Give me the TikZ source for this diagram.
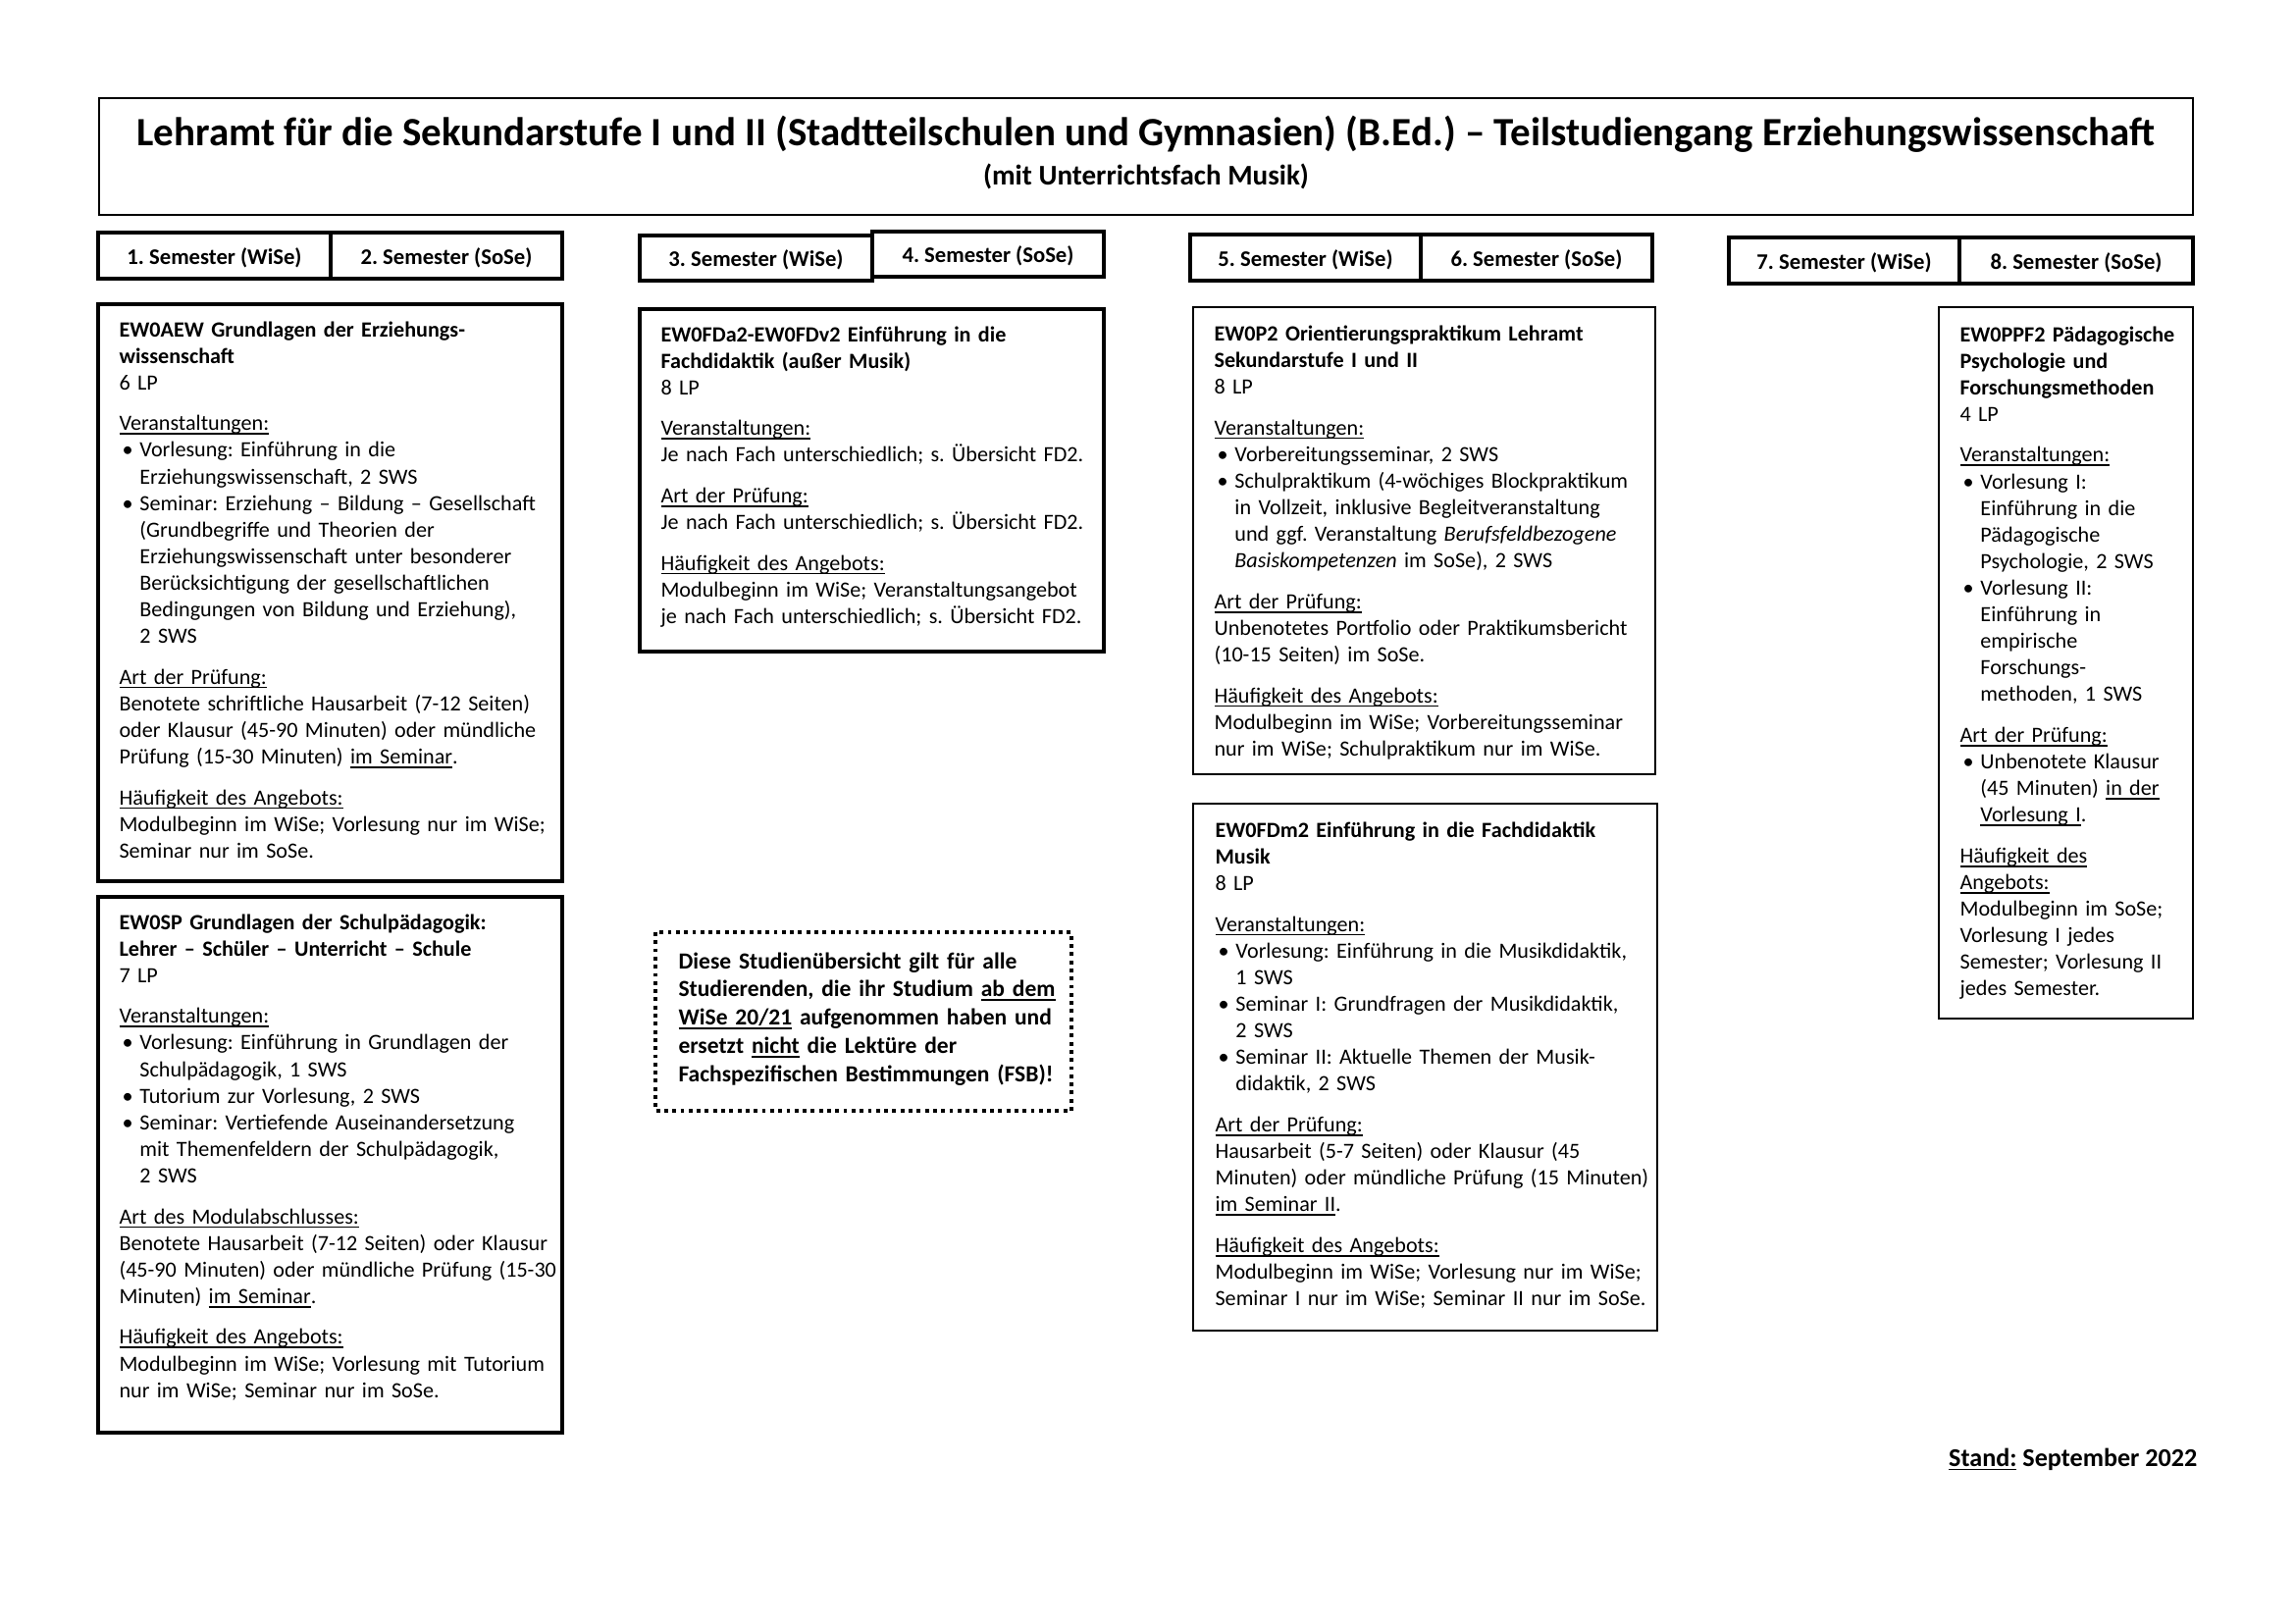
\documentclass[tikz,border=0pt]{standalone}
\usepackage{fontspec}
\setmainfont{Carlito}
\usepackage{tikz}
\frenchspacing
\newsavebox{\ulbox}
\newcommand{\ulin}[1]{\leavevmode\sbox{\ulbox}{#1}\rlap{\rule[-1.5pt]{\wd\ulbox}{0.6pt}}\usebox{\ulbox}}
\newcommand{\bul}{\hspace*{0.4mm}\makebox[2.25mm][l]{\textbullet}}
\newcommand{\ind}{\hspace*{2.65mm}}

\begin{document}
\begin{tikzpicture}[x=0.127mm, y=-0.127mm,
  modtext/.style={anchor=base west, inner sep=0pt, align=left, text width=62mm, font=\fontsize{8}{9.8}\selectfont},
  semlabel/.style={font=\fontsize{8.2}{10}\selectfont\bfseries},
  semline/.style={line width=1.4pt},
  thickbox/.style={line width=1.3pt},
  thinbox/.style={line width=0.5pt},
  notedots/.style={line width=1.4pt, dash pattern=on 1.4pt off 1.6pt}]
  \useasboundingbox (0,0) rectangle (2339,1654);
  % Title
  \draw[thinbox] (101,100) rectangle (2235,219);
  \node[font=\fontsize{14.8}{17}\selectfont\bfseries] (title) at (1168,137)
    {Lehramt für die Sekundarstufe I und II (Stadtteilschulen und Gymnasien) (B.Ed.) – Teilstudiengang Erziehungswissenschaft};
  \node[font=\fontsize{10.5}{12}\selectfont\bfseries] (subtitle) at (1168,180) {(mit Unterrichtsfach Musik)};
  % Semester cells
  \draw[semline] (100,237) rectangle (337,284);
  \draw[semline] (337,237) rectangle (573,284);
  \node[semlabel] (sem1) at (218.5,262.5) {1. Semester (WiSe)};
  \node[semlabel] (sem2) at (455,262.5) {2. Semester (SoSe)};
  \draw[semline] (652,240) rectangle (889,286);
  \draw[semline] (889,236) rectangle (1125,282);
  \node[semlabel] (sem3) at (770.5,265) {3. Semester (WiSe)};
  \node[semlabel] (sem4) at (1007,261) {4. Semester (SoSe)};
  \draw[semline] (1213,239) rectangle (1448,286);
  \draw[semline] (1448,239) rectangle (1684,286);
  \node[semlabel] (sem5) at (1330.5,264.5) {5. Semester (WiSe)};
  \node[semlabel] (sem6) at (1566,264.5) {6. Semester (SoSe)};
  \draw[semline] (1762,242) rectangle (1997,289);
  \draw[semline] (1997,242) rectangle (2235,289);
  \node[semlabel] (sem7) at (1879.5,267.5) {7. Semester (WiSe)};
  \node[semlabel] (sem8) at (2116,267.5) {8. Semester (SoSe)};
  % Module EW0AEW
  \draw[thickbox] (100,310) rectangle (573,898);
  \node[modtext] (aew) at (121,343) {\textbf{EW0AEW Grundlagen der Erziehungs-}\\
    \textbf{wissenschaft}\\
    6 LP\\[5.2pt]
    \ulin{Veranstaltungen:}\\
    \bul Vorlesung: Einführung in die\\
    \ind Erziehungswissenschaft, 2 SWS\\
    \bul Seminar: Erziehung – Bildung – Gesellschaft\\
    \ind (Grundbegriffe und Theorien der\\
    \ind Erziehungswissenschaft unter besonderer\\
    \ind Berücksichtigung der gesellschaftlichen\\
    \ind Bedingungen von Bildung und Erziehung),\\
    \ind 2 SWS\\[5.2pt]
    \ulin{Art der Prüfung:}\\
    Benotete schriftliche Hausarbeit (7-12 Seiten)\\
    oder Klausur (45-90 Minuten) oder mündliche\\
    Prüfung (15-30 Minuten) \ulin{im Seminar}.\\[5.2pt]
    \ulin{Häufigkeit des Angebots:}\\
    Modulbeginn im WiSe; Vorlesung nur im WiSe;\\
    Seminar nur im SoSe.};
  % Module EW0SP
  \draw[thickbox] (100,914) rectangle (573,1460);
  \node[modtext] (sp) at (121,947) {\textbf{EW0SP Grundlagen der Schulpädagogik:}\\
    \textbf{Lehrer – Schüler – Unterricht – Schule}\\
    7 LP\\[5.2pt]
    \ulin{Veranstaltungen:}\\
    \bul Vorlesung: Einführung in Grundlagen der\\
    \ind Schulpädagogik, 1 SWS\\
    \bul Tutorium zur Vorlesung, 2 SWS\\
    \bul Seminar: Vertiefende Auseinandersetzung\\
    \ind mit Themenfeldern der Schulpädagogik,\\
    \ind 2 SWS\\[5.2pt]
    \ulin{Art des Modulabschlusses:}\\
    Benotete Hausarbeit (7-12 Seiten) oder Klausur\\
    (45-90 Minuten) oder mündliche Prüfung (15-30\\
    Minuten) \ulin{im Seminar}.\\[5.2pt]
    \ulin{Häufigkeit des Angebots:}\\
    Modulbeginn im WiSe; Vorlesung mit Tutorium\\
    nur im WiSe; Seminar nur im SoSe.};
  % Module EW0FDa2-EW0FDv2
  \draw[thickbox] (652,315) rectangle (1125,664);
  \node[modtext] (fda) at (673,348) {\textbf{EW0FDa2-EW0FDv2 Einführung in die}\\
    \textbf{Fachdidaktik (außer Musik)}\\
    8 LP\\[5.2pt]
    \ulin{Veranstaltungen:}\\
    Je nach Fach unterschiedlich; s. Übersicht FD2.\\[5.2pt]
    \ulin{Art der Prüfung:}\\
    Je nach Fach unterschiedlich; s. Übersicht FD2.\\[5.2pt]
    \ulin{Häufigkeit des Angebots:}\\
    Modulbeginn im WiSe; Veranstaltungsangebot\\
    je nach Fach unterschiedlich; s. Übersicht FD2.};
  % Note
  \draw[notedots] (668,950) rectangle (1092,1132);
  \node[modtext, font=\fontsize{8.5}{10.4}\selectfont\bfseries] (note) at (691,987)
    {Diese Studienübersicht gilt für alle\\
    Studierenden, die ihr Studium \ulin{ab dem}\\
    \ulin{WiSe 20/21} aufgenommen haben und\\
    ersetzt \ulin{nicht} die Lektüre der\\
    Fachspezifischen Bestimmungen (FSB)!};
  % Module EW0P2
  \draw[thinbox] (1216,313) rectangle (1687,789);
  \node[modtext] (p2) at (1237,347.5) {\textbf{EW0P2 Orientierungspraktikum Lehramt}\\
    \textbf{Sekundarstufe I und II}\\
    8 LP\\[5.2pt]
    \ulin{Veranstaltungen:}\\
    \bul Vorbereitungsseminar, 2 SWS\\
    \bul Schulpraktikum (4-wöchiges Blockpraktikum\\
    \ind in Vollzeit, inklusive Begleitveranstaltung\\
    \ind und ggf. Veranstaltung \textit{Berufsfeldbezogene}\\
    \ind \textit{Basiskompetenzen} im SoSe), 2 SWS\\[5.2pt]
    \ulin{Art der Prüfung:}\\
    Unbenotetes Portfolio oder Praktikumsbericht\\
    (10-15 Seiten) im SoSe.\\[5.2pt]
    \ulin{Häufigkeit des Angebots:}\\
    Modulbeginn im WiSe; Vorbereitungsseminar\\
    nur im WiSe; Schulpraktikum nur im WiSe.};
  % Module EW0FDm2
  \draw[thinbox] (1216,819) rectangle (1689,1356);
  \node[modtext] (fdm) at (1238,853.5) {\textbf{EW0FDm2 Einführung in die Fachdidaktik}\\
    \textbf{Musik}\\
    8 LP\\[5.2pt]
    \ulin{Veranstaltungen:}\\
    \bul Vorlesung: Einführung in die Musikdidaktik,\\
    \ind 1 SWS\\
    \bul Seminar I: Grundfragen der Musikdidaktik,\\
    \ind 2 SWS\\
    \bul Seminar II: Aktuelle Themen der Musik-\\
    \ind didaktik, 2 SWS\\[5.2pt]
    \ulin{Art der Prüfung:}\\
    Hausarbeit (5-7 Seiten) oder Klausur (45\\
    Minuten) oder mündliche Prüfung (15 Minuten)\\
    \ulin{im Seminar II}.\\[5.2pt]
    \ulin{Häufigkeit des Angebots:}\\
    Modulbeginn im WiSe; Vorlesung nur im WiSe;\\
    Seminar I nur im WiSe; Seminar II nur im SoSe.};
  % Module EW0PPF2
  \draw[thinbox] (1976,313) rectangle (2235,1038);
  \node[modtext, text width=30mm] (ppf) at (1997,348) {\textbf{EW0PPF2 Pädagogische}\\
    \textbf{Psychologie und}\\
    \textbf{Forschungsmethoden}\\
    4 LP\\[5.2pt]
    \ulin{Veranstaltungen:}\\
    \bul Vorlesung I:\\
    \ind Einführung in die\\
    \ind Pädagogische\\
    \ind Psychologie, 2 SWS\\
    \bul Vorlesung II:\\
    \ind Einführung in\\
    \ind empirische\\
    \ind Forschungs-\\
    \ind methoden, 1 SWS\\[5.2pt]
    \ulin{Art der Prüfung:}\\
    \bul Unbenotete Klausur\\
    \ind (45 Minuten) \ulin{in der}\\
    \ind \ulin{Vorlesung I}.\\[5.2pt]
    \ulin{Häufigkeit des}\\
    \ulin{Angebots:}\\
    Modulbeginn im SoSe;\\
    Vorlesung I jedes\\
    Semester; Vorlesung II\\
    jedes Semester.};
  % Date
  \node[anchor=base east, inner sep=0pt, font=\fontsize{9.45}{11}\selectfont\bfseries] (stand) at (2240,1494)
    {\ulin{Stand:} September 2022};
\end{tikzpicture}
\end{document}
